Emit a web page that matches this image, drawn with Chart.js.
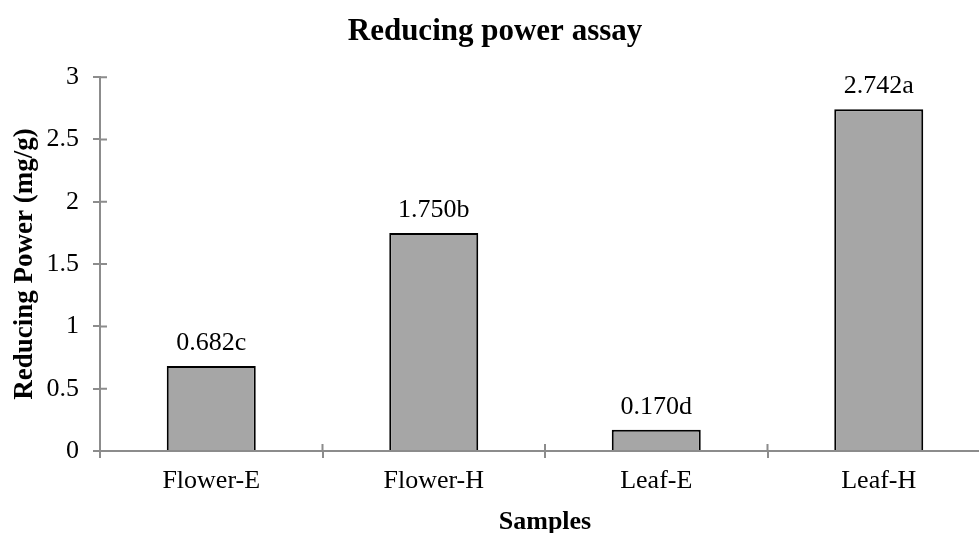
<!DOCTYPE html>
<html>
<head>
<meta charset="utf-8">
<script src="https://cdn.jsdelivr.net/npm/chart.js@4"></script>
<style>
  html, body { margin: 0; padding: 0; background: #fff; overflow: hidden; }
  #wrap { width: 990px; height: 533px; }
</style>
</head>
<body>
<div id="wrap"><canvas id="chart" width="990" height="533"></canvas></div>
<script>
const samples = ['Flower-E', 'Flower-H', 'Leaf-E', 'Leaf-H']
const reducingPower = [0.682, 1.750, 0.170, 2.742]
const groupLetters = ['c', 'b', 'd', 'a']
const yTicks = [0, 0.5, 1, 1.5, 2, 2.5, 3]

const serif = "'Liberation Serif', 'Times New Roman', serif"
const axisGray = '#8c8c8c'

// value labels sitting above each bar
const barLabels = {
    id: 'barLabels',
    afterDatasetsDraw(chart) {
        const ctx = chart.ctx
        const meta = chart.getDatasetMeta(0)
        ctx.save()
        ctx.font = `26px ${serif}`
        ctx.fillStyle = '#000'
        ctx.textAlign = 'center'
        ctx.textBaseline = 'alphabetic'
        meta.data.forEach((bar, i) => {
            ctx.fillText(reducingPower[i].toFixed(3) + groupLetters[i], bar.x, bar.y - 16)
        })
        ctx.restore()
    }
}

// the inner half of the tick marks (Excel style "cross" ticks)
const crossTicks = {
    id: 'crossTicks',
    afterDraw(chart) {
        const { ctx, chartArea, scales } = chart
        ctx.save()
        ctx.strokeStyle = axisGray
        ctx.lineWidth = 2
        ctx.beginPath()
        yTicks.forEach(v => {
            const py = scales.y.getPixelForValue(v)
            ctx.moveTo(chartArea.left, py)
            ctx.lineTo(chartArea.left + 7, py)
        })
        const half = (scales.x.getPixelForValue(1) - scales.x.getPixelForValue(0)) / 2
        for (let i = 0; i <= samples.length; i++) {
            const px = scales.x.getPixelForValue(i) - half
            ctx.moveTo(px, chartArea.bottom)
            ctx.lineTo(px, chartArea.bottom - 7)
        }
        ctx.stroke()
        ctx.restore()
    }
}

new Chart(document.getElementById('chart'), {
    type: 'bar',
    data: {
        labels: samples,
        datasets: [{
            data: reducingPower,
            backgroundColor: '#a6a6a6',
            borderColor: '#000',
            borderWidth: 2,
            barPercentage: 0.4,
            categoryPercentage: 1
        }]
    },
    options: {
        responsive: false,
        animation: false,
        layout: { padding: { left: 0, right: 0, top: 0, bottom: 0 } },
        plugins: {
            legend: { display: false },
            tooltip: { enabled: false },
            title: {
                display: true,
                text: 'Reducing power assay',
                color: '#000',
                font: { family: serif, size: 31, weight: 'bold' },
                padding: { top: 13, bottom: 27 }
            }
        },
        scales: {
            x: {
                grid: {
                    drawOnChartArea: false,
                    drawTicks: true,
                    tickLength: 7,
                    color: axisGray,
                    lineWidth: 2
                },
                border: { display: true, color: axisGray, width: 2 },
                ticks: {
                    color: '#000',
                    font: { family: serif, size: 26 },
                    padding: 8,
                    maxRotation: 0
                },
                title: {
                    display: true,
                    text: 'Samples',
                    color: '#000',
                    font: { family: serif, size: 26, weight: 'bold', lineHeight: 0.8 },
                    padding: 0
                },
                afterFit(scale) { scale.height = 82 }
            },
            y: {
                min: 0,
                max: 3,
                afterBuildTicks(scale) {
                    scale.ticks = yTicks.map(v => ({ value: v }))
                },
                ticks: {
                    color: '#000',
                    font: { family: serif, size: 26 },
                    padding: 14,
                    callback: v => String(v)
                },
                grid: {
                    drawOnChartArea: false,
                    drawTicks: true,
                    tickLength: 7,
                    color: axisGray,
                    lineWidth: 2
                },
                border: { display: true, color: axisGray, width: 2 },
                title: {
                    display: true,
                    text: 'Reducing Power (mg/g)',
                    color: '#000',
                    font: { family: serif, size: 27, weight: 'bold', lineHeight: 1 },
                    padding: { top: 12, bottom: 0 }
                },
                afterFit(scale) { scale.width = 100 }
            }
        }
    },
    plugins: [barLabels, crossTicks]
})
</script>
</body>
</html>
